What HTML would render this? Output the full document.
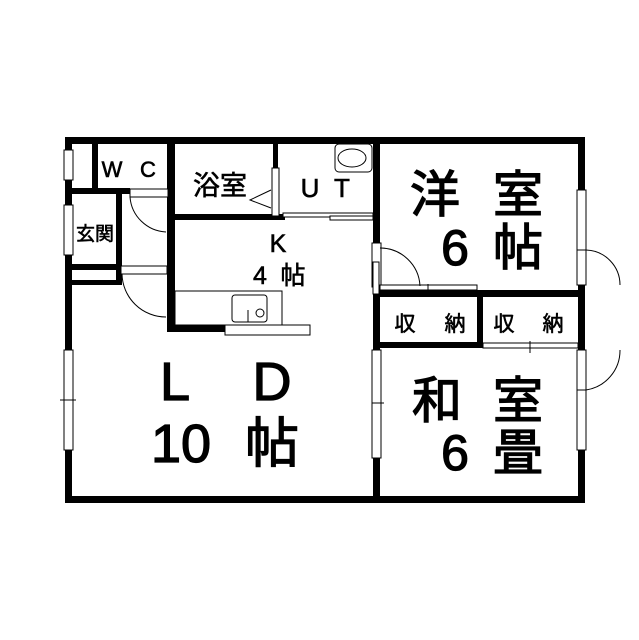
<!DOCTYPE html>
<html><head><meta charset="utf-8"><style>
html,body{margin:0;padding:0;background:#fff}
svg{display:block}
text{font-family:"Liberation Sans","Noto Sans CJK JP",sans-serif;fill:#000}
.b{stroke:#000;stroke-width:1.3}
.m{stroke:#000;stroke-width:0.6}
</style></head><body>
<svg width="639" height="640" viewBox="0 0 639 640" xmlns="http://www.w3.org/2000/svg">
<rect width="639" height="640" fill="#fff"/>
<g fill="#000">
<rect x="65" y="137" width="520" height="7"/>
<rect x="65" y="496" width="520" height="7"/>
<rect x="65" y="137" width="7" height="366"/>
<rect x="578" y="137" width="7" height="366"/>
<rect x="92" y="140" width="6" height="52"/>
<rect x="68" y="188" width="62" height="6"/>
<rect x="167" y="140" width="8" height="192"/>
<rect x="167" y="325" width="58" height="7"/>
<rect x="170" y="214" width="115" height="6"/>
<rect x="273" y="140" width="5" height="78"/>
<rect x="373" y="140" width="7" height="362"/>
<rect x="68" y="264" width="52" height="6"/>
<rect x="68" y="280" width="52" height="5"/>
<rect x="116" y="192" width="6" height="93"/>
<rect x="375" y="290" width="208" height="7"/>
<rect x="375" y="342" width="108" height="6"/>
<rect x="477" y="290" width="6" height="58"/>
</g>
<g fill="#fff" stroke="#000" stroke-width="1">
<rect x="64" y="150" width="9" height="30"/>
<rect x="64" y="205" width="9" height="50"/>
<rect x="64" y="350" width="9" height="100"/>
<rect x="577" y="190" width="9" height="60"/>
<rect x="577" y="390" width="9" height="60"/>
<rect x="372" y="350" width="9" height="108"/>
<rect x="372" y="243" width="9" height="44"/>
<rect x="577" y="250" width="9" height="35"/>
<rect x="577" y="350" width="9" height="40"/>
<rect x="130" y="189" width="38" height="8"/>
<rect x="121" y="266" width="46" height="8"/>
<rect x="272" y="168" width="7" height="48"/>
<rect x="373" y="262" width="6" height="32"/>
<rect x="283" y="213" width="90" height="4"/>
<rect x="330" y="216" width="43" height="4"/>
<rect x="380" y="285" width="97" height="5"/>
<rect x="483" y="343" width="95" height="5"/>
<rect x="175" y="291" width="107" height="34"/>
<rect x="225" y="325" width="85" height="10"/>
<rect x="232" y="295" width="35" height="27" rx="3"/>
<rect x="335" y="144" width="37" height="28" rx="4"/>
<ellipse cx="352" cy="158" rx="14" ry="9"/>
<circle cx="260" cy="313" r="4"/>
</g>
<g fill="none" stroke="#000" stroke-width="1">
<path d="M130 197 A38 38 0 0 0 166 232"/>
<path d="M122 274 A44 44 0 0 0 166 317"/>
<path d="M380 248 A40 40 0 0 1 420 286"/>
<path d="M586 250 A35 35 0 0 1 620 285"/>
<path d="M586 390 A40 40 0 0 0 620 350"/>
<path d="M271 190 L250 200 L271 208"/>
<line x1="428" y1="284" x2="428" y2="296"/>
<line x1="530" y1="341" x2="530" y2="353"/>
<line x1="372" y1="403" x2="384" y2="403"/>
<line x1="60" y1="400" x2="76" y2="400"/>
<line x1="248" y1="310" x2="248" y2="322"/>
</g>
<g text-anchor="middle">
<text class="m" x="112" y="177" font-size="22">W</text>
<text class="m" x="148" y="177" font-size="22">C</text>
<text class="m" x="220" y="195" font-size="27">浴室</text>
<text class="m" x="310" y="197" font-size="26">U</text>
<text class="m" x="342" y="197" font-size="26">T</text>
<text class="m" x="95" y="240" font-size="19">玄関</text>
<text class="m" x="278" y="252" font-size="25">K</text>
<text class="m" x="260" y="284" font-size="25">4</text>
<text class="m" x="293" y="284" font-size="25">帖</text>
<text class="b" x="435" y="212" font-size="50">洋</text>
<text class="b" x="518" y="212" font-size="50">室</text>
<text class="b" x="455" y="265" font-size="50">6</text>
<text class="b" x="518" y="265" font-size="50">帖</text>
<text class="b" x="437" y="418" font-size="50">和</text>
<text class="b" x="518" y="418" font-size="50">室</text>
<text class="b" x="455" y="470" font-size="50">6</text>
<text class="b" x="518" y="470" font-size="50">畳</text>
<text class="b" x="175" y="400" font-size="54">L</text>
<text class="b" x="272" y="400" font-size="54">D</text>
<text class="b" x="181" y="462" font-size="54">10</text>
<text class="b" x="272" y="462" font-size="54">帖</text>
<text class="m" x="405" y="331" font-size="21">収</text>
<text class="m" x="455" y="331" font-size="21">納</text>
<text class="m" x="504" y="331" font-size="21">収</text>
<text class="m" x="553" y="331" font-size="21">納</text>
</g>
</svg>
</body></html>
